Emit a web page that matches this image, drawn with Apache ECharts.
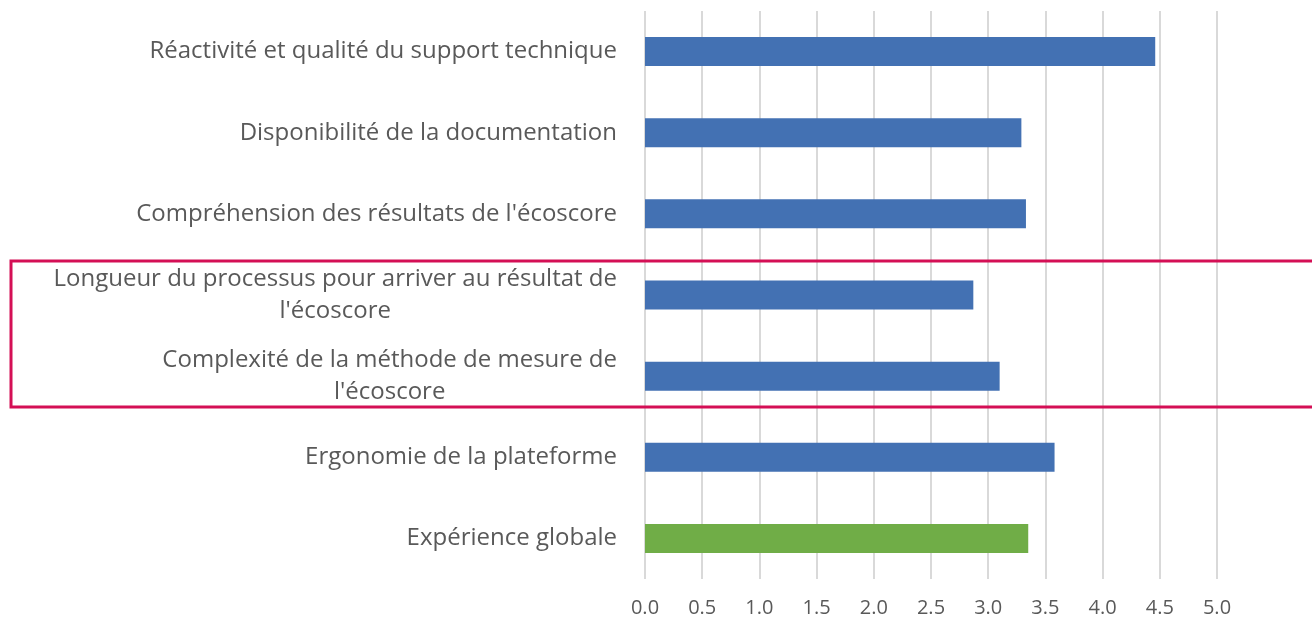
<!DOCTYPE html>
<html>
<head>
<meta charset="utf-8">
<script src="https://cdn.jsdelivr.net/npm/echarts@6/dist/echarts.min.js"></script>
<style>
html,body{margin:0;padding:0;background:#fff;}
#chart{width:1312px;height:620px;}
</style>
</head>
<body>
<div id="chart"></div>
<script>
const categories = [
  "Réactivité et qualité du support technique",
  "Disponibilité de la documentation",
  "Compréhension des résultats de l'écoscore",
  "Longueur du processus pour arriver au résultat de\nl'écoscore",
  "Complexité de la méthode de mesure de\nl'écoscore",
  "Ergonomie de la plateforme",
  "Expérience globale"
];
const values = [4.46, 3.29, 3.33, 2.87, 3.10, 3.58, 3.35];
const barColors = ["#4371B3", "#4371B3", "#4371B3", "#4371B3", "#4371B3", "#4371B3", "#70AD47"];
const xTicks = { min: 0, max: 5, interval: 0.5 };

const chart = echarts.init(document.getElementById('chart'), null, {renderer: 'canvas'});
const FONT = '"Open Sans", "Noto Sans", sans-serif';

chart.setOption({
  animation: false,
  backgroundColor: '#ffffff',
  grid: { left: 645, right: 95, top: 11, bottom: 41, containLabel: false },
  xAxis: {
    type: 'value',
    min: xTicks.min, max: xTicks.max, interval: xTicks.interval,
    axisLine: { show: false },
    axisTick: { show: false },
    splitLine: { show: true, lineStyle: { color: '#D9D9D9', width: 2 } },
    axisLabel: {
      color: '#595959', fontFamily: FONT, fontSize: 20, margin: 19,
      formatter: v => v.toFixed(1)
    }
  },
  yAxis: {
    type: 'category',
    inverse: true,
    data: categories,
    axisLine: { show: false },
    axisTick: { show: false },
    axisLabel: {
      color: '#595959', fontFamily: FONT, fontSize: 24, margin: 28,
      align: 'right', lineHeight: 32,
      formatter: v => v.split('\n').map(l => '{c|' + l + '}').join('\n'),
      rich: { c: { align: 'center', color: '#595959', fontFamily: FONT, fontSize: 24, lineHeight: 32 } }
    }
  },
  series: [{
    type: 'bar',
    barWidth: 29,
    data: values.map((v, i) => ({ value: v, itemStyle: { color: barColors[i] } }))
  }],
  graphic: [{
    type: 'rect',
    shape: { x: 11, y: 261, width: 1310, height: 146 },
    style: { fill: 'none', stroke: '#D40F55', lineWidth: 3 },
    z: 100
  }]
});
</script>
</body>
</html>
